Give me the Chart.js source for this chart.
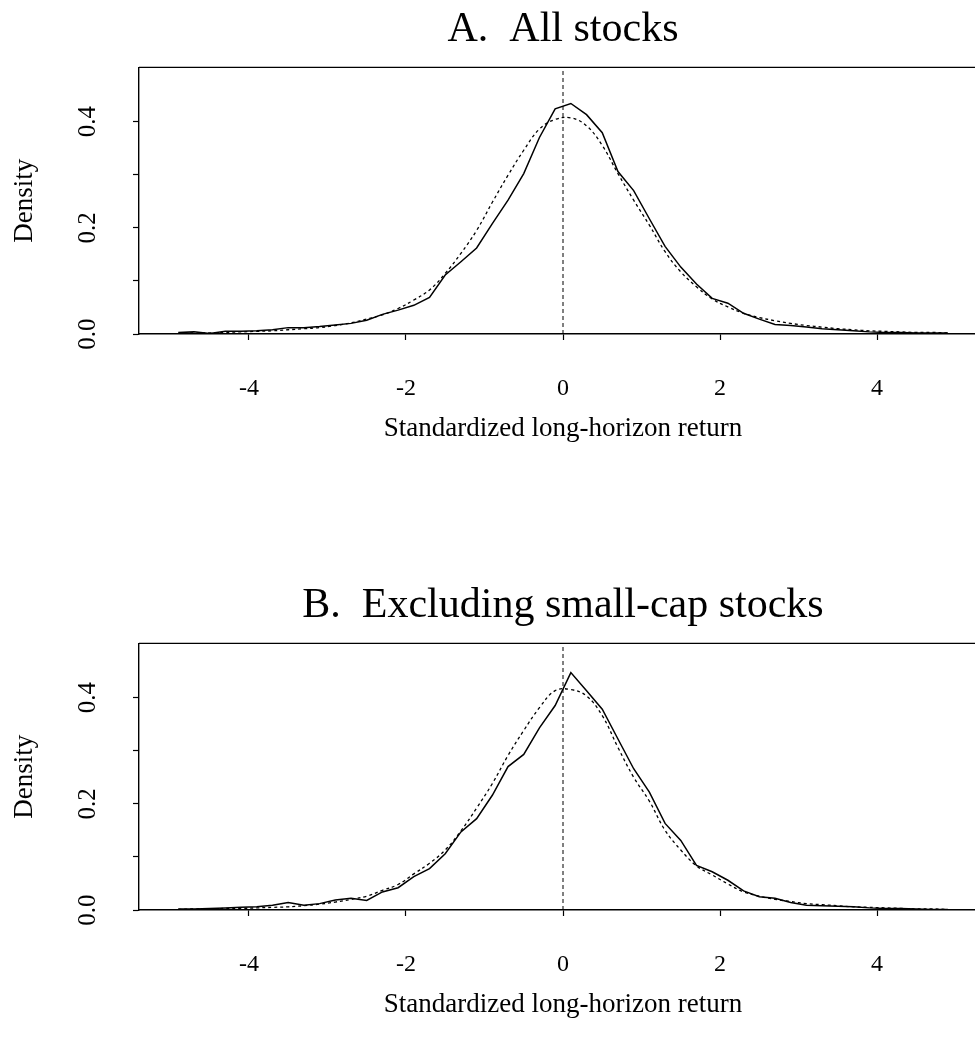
<!DOCTYPE html>
<html>
<head>
<meta charset="utf-8">
<script src="https://cdn.jsdelivr.net/npm/chart.js@4.4.1/dist/chart.umd.min.js"></script>
<style>
  html, body { margin: 0; padding: 0; background: #fff; overflow: hidden; }
  .panel { position: absolute; left: 0; width: 1126px; height: 576px; }
  #panelA { top: 0; }
  #panelB { top: 576px; }
</style>
</head>
<body>
<div class="panel" id="panelA"><canvas id="chartA" width="1126" height="576"></canvas></div>
<div class="panel" id="panelB"><canvas id="chartB" width="1126" height="576"></canvas></div>
<script>
// grid of standardized returns where the densities were evaluated
const returnGrid = [
    -4.9, -4.7, -4.5, -4.3, -4.1, -3.9, -3.7, -3.5, -3.3, -3.1,
    -2.9, -2.7, -2.5, -2.3, -2.1, -1.9, -1.7, -1.5, -1.3, -1.1,
    -0.9, -0.7, -0.5, -0.3, -0.1, 0.1, 0.3, 0.5, 0.7, 0.9,
    1.1, 1.3, 1.5, 1.7, 1.9, 2.1, 2.3, 2.5, 2.7, 2.9,
    3.1, 3.3, 3.5, 3.7, 3.9, 4.1, 4.3, 4.5, 4.7, 4.9
];

// panel A: all stocks
const allEmpirical = [
    0.003, 0.004, 0.001, 0.005, 0.005, 0.006, 0.008, 0.012, 0.012, 0.014,
    0.017, 0.020, 0.026, 0.037, 0.045, 0.054, 0.069, 0.111, 0.136, 0.162,
    0.208, 0.252, 0.302, 0.370, 0.424, 0.434, 0.413, 0.379, 0.306, 0.270,
    0.217, 0.165, 0.126, 0.094, 0.067, 0.058, 0.039, 0.028, 0.018, 0.016,
    0.013, 0.010, 0.008, 0.006, 0.004, 0.003, 0.003, 0.002, 0.002, 0.002
];
const allSimulated = [
    0.001, 0.002, 0.002, 0.003, 0.004, 0.005, 0.006, 0.008, 0.010, 0.012,
    0.016, 0.021, 0.028, 0.036, 0.048, 0.064, 0.083, 0.114, 0.152, 0.195,
    0.248, 0.299, 0.346, 0.386, 0.404, 0.407, 0.392, 0.355, 0.302, 0.252,
    0.205, 0.155, 0.117, 0.089, 0.066, 0.051, 0.039, 0.031, 0.025, 0.020,
    0.016, 0.013, 0.010, 0.008, 0.006, 0.005, 0.004, 0.003, 0.003, 0.002
];

// panel B: excluding small-cap stocks
const largeEmpirical = [
    0.002, 0.002, 0.003, 0.004, 0.005, 0.006, 0.009, 0.014, 0.009, 0.012,
    0.019, 0.022, 0.018, 0.034, 0.042, 0.063, 0.078, 0.106, 0.147, 0.172,
    0.216, 0.270, 0.293, 0.343, 0.385, 0.447, 0.413, 0.378, 0.322, 0.266,
    0.222, 0.163, 0.131, 0.084, 0.072, 0.056, 0.036, 0.025, 0.022, 0.014,
    0.009, 0.008, 0.007, 0.006, 0.004, 0.003, 0.003, 0.002, 0.001, 0.001
];
const largeSimulated = [
    0.001, 0.002, 0.002, 0.003, 0.003, 0.004, 0.005, 0.006, 0.008, 0.011,
    0.015, 0.020, 0.026, 0.037, 0.048, 0.068, 0.088, 0.113, 0.149, 0.192,
    0.238, 0.291, 0.338, 0.381, 0.413, 0.415, 0.403, 0.366, 0.306, 0.250,
    0.205, 0.150, 0.113, 0.083, 0.066, 0.049, 0.034, 0.026, 0.020, 0.016,
    0.012, 0.010, 0.008, 0.006, 0.005, 0.004, 0.003, 0.002, 0.002, 0.001
];

const xTickValues = [-4, -2, 0, 2, 4];
const yTickValues = [0, 0.1, 0.2, 0.3, 0.4];
const yTickLabels = ['0.0', '', '0.2', '', '0.4'];
const xRange = [-5.4, 5.4];
const yRange = [0, 0.502];
const zeroLineX = 0;

Chart.defaults.font.family = "'Liberation Serif', 'Times New Roman', serif";
Chart.defaults.color = '#000';

// R-style box: top and right sides of the plotting region
const boxLines = {
    id: 'boxLines',
    afterDraw(chart) {
        const a = chart.chartArea;
        const ctx = chart.ctx;
        ctx.save();
        ctx.strokeStyle = '#000';
        ctx.lineWidth = 1.4;
        ctx.beginPath();
        ctx.moveTo(a.left, a.top);
        ctx.lineTo(a.right, a.top);
        ctx.lineTo(a.right, a.bottom);
        ctx.stroke();
        ctx.restore();
    }
};

function toPoints(ys) {
    return returnGrid.map((x, i) => ({x: x, y: ys[i]}));
}

function show_panel(canvasId, titleText, empirical, simulated) {
    const data = {
        datasets: [
            {
                label: 'empirical',
                data: toPoints(empirical),
                borderColor: '#000',
                borderWidth: 1.5,
                pointRadius: 0,
                tension: 0
            },
            {
                label: 'simulated',
                data: toPoints(simulated),
                borderColor: '#000',
                borderWidth: 1.3,
                borderDash: [3, 3],
                pointRadius: 0,
                tension: 0.4
            },
            {
                label: 'zero',
                data: [{x: zeroLineX, y: yRange[0]}, {x: zeroLineX, y: yRange[1]}],
                borderColor: '#000',
                borderWidth: 1,
                borderDash: [4, 3],
                pointRadius: 0
            }
        ]
    };

    const config = {
        type: 'line',
        data: data,
        options: {
            responsive: false,
            animation: false,
            layout: {
                padding: {left: 0, right: 139, top: 0, bottom: 0}
            },
            scales: {
                x: {
                    type: 'linear',
                    min: xRange[0],
                    max: xRange[1],
                    afterBuildTicks: (scale) => {
                        scale.ticks = xTickValues.map(v => ({value: v}));
                    },
                    afterFit: (scale) => { scale.height = 242; },
                    ticks: {
                        autoSkip: false,
                        maxRotation: 0,
                        padding: 34,
                        font: {size: 24},
                        callback: (value) => String(value)
                    },
                    grid: {
                        drawOnChartArea: false,
                        drawTicks: true,
                        tickLength: 6,
                        tickColor: '#000',
                        tickWidth: 1.2
                    },
                    border: {display: true, color: '#000', width: 1.4},
                    title: {
                        display: true,
                        text: 'Standardized long-horizon return',
                        font: {size: 27},
                        padding: {top: 0, bottom: 131}
                    }
                },
                y: {
                    min: yRange[0],
                    max: yRange[1],
                    afterBuildTicks: (scale) => {
                        scale.ticks = yTickValues.map(v => ({value: v}));
                    },
                    afterFit: (scale) => { scale.width = 139; },
                    ticks: {
                        autoSkip: false,
                        minRotation: 90,
                        maxRotation: 90,
                        crossAlign: 'center',
                        padding: 29,
                        font: {size: 25},
                        callback: (value, index) => yTickLabels[index]
                    },
                    grid: {
                        drawOnChartArea: false,
                        drawTicks: true,
                        tickLength: 6,
                        tickColor: '#000',
                        tickWidth: 1.2
                    },
                    border: {display: true, color: '#000', width: 1.4},
                    title: {
                        display: true,
                        text: 'Density',
                        font: {size: 27},
                        padding: {top: 9, bottom: 0}
                    }
                }
            },
            plugins: {
                title: {
                    display: true,
                    fullSize: false,
                    text: titleText,
                    color: '#000',
                    font: {size: 42, weight: 'normal'},
                    padding: {top: 5, bottom: 12}
                },
                legend: {display: false},
                tooltip: {enabled: false}
            }
        },
        plugins: [boxLines]
    };

    return new Chart(document.getElementById(canvasId), config);
}

show_panel('chartA', 'A.  All stocks', allEmpirical, allSimulated);
show_panel('chartB', 'B.  Excluding small-cap stocks', largeEmpirical, largeSimulated);
</script>
</body>
</html>
